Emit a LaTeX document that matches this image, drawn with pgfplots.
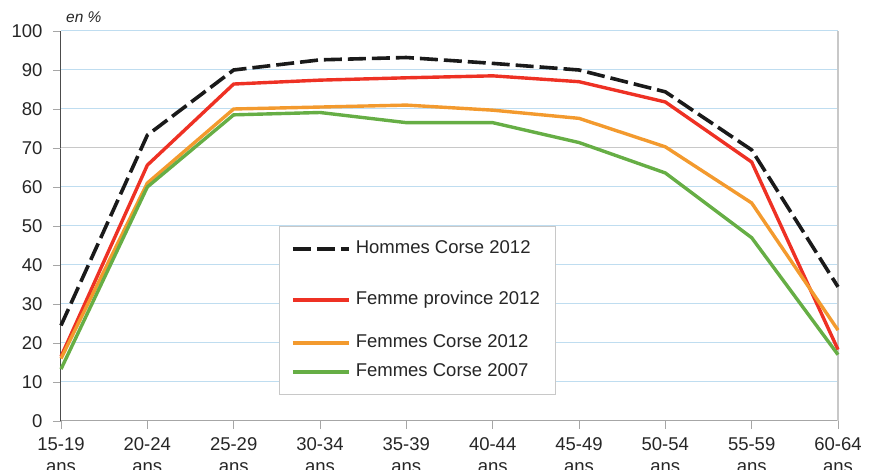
\documentclass[border=0pt]{standalone}
\usepackage{pgfplots}
\pgfplotsset{compat=1.18}
\usepackage{fontspec}
\setmainfont{Liberation Sans}
\definecolor{cred}{HTML}{EE3124}
\definecolor{corange}{HTML}{F39A2E}
\definecolor{cgreen}{HTML}{66AE45}
\definecolor{cblack}{HTML}{1A1A1A}
\definecolor{gridblue}{HTML}{BFDDF0}
\definecolor{gridgrey}{HTML}{C8C8C8}
\definecolor{axgrey}{HTML}{A6A6A6}
\begin{document}
\begin{tikzpicture}
\begin{axis}[
  at={(0,0)}, anchor=south west,
  scale only axis, width=777pt, height=390pt,
  xmin=0, xmax=9, ymin=0, ymax=100,
  xtick={0,...,9},
  xticklabels={15-19\\ans,20-24\\ans,25-29\\ans,30-34\\ans,35-39\\ans,40-44\\ans,45-49\\ans,50-54\\ans,55-59\\ans,60-64\\ans},
  ytick={0,10,...,100},
  /pgf/number format/assume math mode=true,
  ticklabel style={font=\fontsize{18.5}{22}\selectfont, text=black!85},
  xticklabel style={align=center, yshift=-5pt},
  yticklabel style={xshift=-7pt},
  tick align=outside, major tick length=8pt,
  tick style={draw=axgrey, line width=0.8pt},
  ymajorgrids, grid style={draw=gridblue, line width=1pt},
  extra y ticks={70}, extra y tick labels={},
  extra y tick style={grid style={draw=gridgrey, line width=1pt}},
  axis x line*=bottom, axis y line*=left,
  x axis line style={draw=axgrey, line width=1pt, -},
  y axis line style={draw=black!70, line width=1pt, -},
  clip=false,
  legend style={at={(axis cs:2.525,6.7)}, anchor=south west,
    draw=gridgrey, fill=white, inner xsep=12pt, inner ysep=8pt,
    row sep=0pt, column sep=2pt,
    nodes={font=\fontsize{18.5}{22}\selectfont, text height=13.5pt, text depth=4pt, inner ysep=5.75pt, inner xsep=3pt, text=black!85}},
  legend cell align=left,
  legend image code/.code={\draw[#1] (0pt,0pt) -- (56pt,0pt);},
]
\draw[gridgrey, line width=2pt] (axis cs:9,0) -- (axis cs:9,100);
\addplot[cblack, line width=3.6pt, dash pattern=on 18pt off 6pt] coordinates {
 (0,24.5) (1,73.3) (2,90) (3,92.6) (4,93.2) (5,91.7) (6,90) (7,84.4) (8,69.5) (9,34.4)};
\addlegendentry{Hommes Corse 2012}
\addlegendimage{empty legend}
\addlegendentry[text height=0pt, text depth=0pt, inner ysep=0pt, minimum height=22pt]{}
\addplot[cred, line width=3.4pt] coordinates {
 (0,16.5) (1,65.6) (2,86.4) (3,87.4) (4,88) (5,88.5) (6,87) (7,81.8) (8,66.4) (9,18.3)};
\addlegendentry{Femme province 2012}
\addlegendimage{empty legend}
\addlegendentry[text height=0pt, text depth=0pt, inner ysep=0pt, minimum height=14pt]{}
\addplot[corange, line width=3.4pt] coordinates {
 (0,16) (1,61) (2,80) (3,80.5) (4,81) (5,79.7) (6,77.6) (7,70.3) (8,55.9) (9,23.3)};
\addlegendentry{Femmes Corse 2012}
\addplot[cgreen, line width=3.4pt] coordinates {
 (0,13.3) (1,60) (2,78.5) (3,79.1) (4,76.5) (5,76.5) (6,71.4) (7,63.6) (8,47) (9,17)};
\addlegendentry{Femmes Corse 2007}
\node[anchor=base west, font=\fontsize{15.5}{17}\selectfont\itshape, text=black!85, inner sep=0pt] at ([xshift=5pt, yshift=8pt]rel axis cs:0,1) {en \%};
\end{axis}
\pgfresetboundingbox
\path[use as bounding box] (-61pt,-49pt) rectangle (810pt,421pt);
\end{tikzpicture}
\end{document}
